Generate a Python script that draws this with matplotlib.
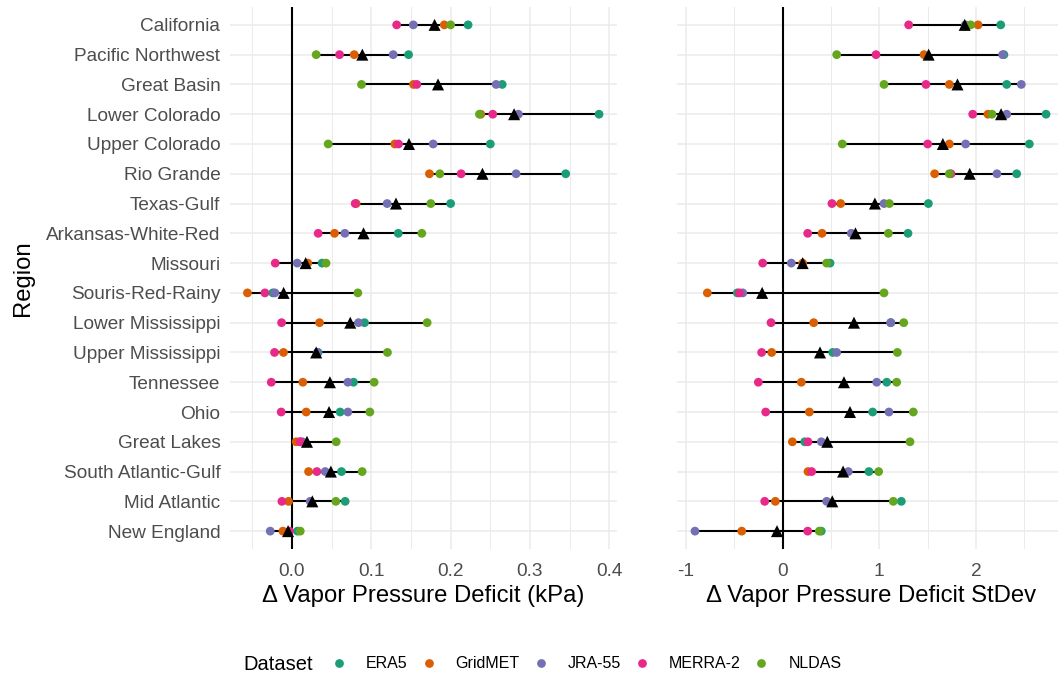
import numpy as np
import matplotlib
matplotlib.use("Agg")
import matplotlib.pyplot as plt
from matplotlib.lines import Line2D

plt.rcParams['font.family'] = ['Liberation Sans', 'DejaVu Sans']

regions = ["California", "Pacific Northwest", "Great Basin", "Lower Colorado",
           "Upper Colorado", "Rio Grande", "Texas-Gulf", "Arkansas-White-Red",
           "Missouri", "Souris-Red-Rainy", "Lower Mississippi", "Upper Mississippi",
           "Tennessee", "Ohio", "Great Lakes", "South Atlantic-Gulf",
           "Mid Atlantic", "New England"]
datasets = ["ERA5", "GridMET", "JRA-55", "MERRA-2", "NLDAS"]
colors = ["#1B9E77", "#D95F02", "#7570B3", "#E7298A", "#66A61E"]

# delta VPD (kPa), one list per dataset, regions in order above
era5_kpa = [0.222, 0.147, 0.265, 0.387, 0.250, 0.345, 0.200, 0.134, 0.038,
            -0.024, 0.0915, 0.033, 0.0776, 0.0608, 0.010, 0.0625, 0.0671, 0.007]
gridmet_kpa = [0.192, 0.0785, 0.1532, 0.238, 0.1297, 0.1733, 0.081, 0.0537, 0.020,
               -0.056, 0.0348, -0.0106, 0.0138, 0.018, 0.0054, 0.021, -0.0042, -0.0113]
jra55_kpa = [0.153, 0.1276, 0.2573, 0.2854, 0.178, 0.2825, 0.120, 0.0667, 0.0067,
             -0.0214, 0.0839, 0.032, 0.0705, 0.0705, 0.0133, 0.042, 0.023, -0.0273]
merra2_kpa = [0.132, 0.060, 0.1574, 0.2531, 0.1343, 0.2132, 0.0797, 0.0331, -0.021,
              -0.034, -0.013, -0.0219, -0.026, -0.0135, 0.0105, 0.0315, -0.0126, -0.003]
nldas_kpa = [0.200, 0.0306, 0.0877, 0.2363, 0.0457, 0.1864, 0.175, 0.1637, 0.043,
             0.0831, 0.1704, 0.1204, 0.1036, 0.0982, 0.0558, 0.0885, 0.0554, 0.0105]

# delta VPD in standard deviations
era5_sd = [2.257, 2.29, 2.319, 2.726, 2.553, 2.422, 1.508, 1.297, 0.490,
           -0.47, 1.119, 0.518, 1.077, 0.931, 0.228, 0.893, 1.228, 0.399]
gridmet_sd = [2.022, 1.463, 1.725, 2.125, 1.725, 1.573, 0.600, 0.407, 0.207,
              -0.780, 0.321, -0.114, 0.193, 0.276, 0.100, 0.262, -0.076, -0.424]
jra55_sd = [1.891, 2.277, 2.47, 2.319, 1.894, 2.218, 1.049, 0.710, 0.089,
            -0.414, 1.118, 0.559, 0.973, 1.100, 0.400, 0.679, 0.455, -0.908]
merra2_sd = [1.304, 0.966, 1.483, 1.967, 1.501, 1.742, 0.510, 0.259, -0.207,
             -0.449, -0.121, -0.218, -0.252, -0.176, 0.262, 0.300, -0.186, 0.259]
nldas_sd = [1.946, 0.559, 1.049, 2.167, 0.617, 1.725, 1.104, 1.094, 0.455,
            1.049, 1.253, 1.187, 1.180, 1.352, 1.318, 0.993, 1.145, 0.379]

kpa = np.array([era5_kpa, gridmet_kpa, jra55_kpa, merra2_kpa, nldas_kpa])
sd = np.array([era5_sd, gridmet_sd, jra55_sd, merra2_sd, nldas_sd])

W, H = 1058, 687
fig = plt.figure(figsize=(W / 100, H / 100), dpi=100)
ax1 = fig.add_axes([230 / W, 1 - 549 / H, 386.5 / W, 542 / H])
ax2 = fig.add_axes([677.4 / W, 1 - 549 / H, 386.4 / W, 542 / H])

y = np.arange(len(regions))[::-1]
grid_col = "#EBEBEB"
tick_col = "#4D4D4D"
tick_fs = 13.7
title_fs = 17.2


def draw(ax, vals, xlim, major, minor, labels, xlabel):
    for xv in minor:
        ax.axvline(xv, color=grid_col, lw=0.7, zorder=0)
    for xv in major:
        ax.axvline(xv, color=grid_col, lw=1.1, zorder=0)
    for yv in y:
        ax.axhline(yv, color=grid_col, lw=1.1, zorder=0)
    ax.axvline(0, color="black", lw=1.5, zorder=1)
    ax.hlines(y, vals.min(axis=0), vals.max(axis=0), color="black", lw=1.5, zorder=2)
    for i, c in enumerate(colors):
        ax.scatter(vals[i], y, s=40, color=c, edgecolors="none", zorder=3)
    ax.scatter(vals.mean(axis=0), y, s=75, marker="^", color="black",
               edgecolors="none", zorder=4)
    ax.set_xlim(*xlim)
    ax.set_ylim(-0.6, len(regions) - 0.4)
    ax.set_xticks(major)
    ax.set_xticklabels(labels, color=tick_col, fontsize=tick_fs)
    ax.tick_params(axis="x", length=0, pad=10)
    ax.tick_params(axis="y", length=0, pad=7)
    ax.set_xlabel(xlabel, fontsize=title_fs, labelpad=4)
    for s in ax.spines.values():
        s.set_visible(False)


draw(ax1, kpa, (-0.078, 0.409), [0.0, 0.1, 0.2, 0.3, 0.4],
     [-0.05, 0.05, 0.15, 0.25, 0.35], ["0.0", "0.1", "0.2", "0.3", "0.4"],
     "Δ Vapor Pressure Deficit (kPa)")
draw(ax2, sd, (-1.09, 2.91), [-1, 0, 1, 2], [-0.5, 0.5, 1.5, 2.5],
     ["-1", "0", "1", "2"], "Δ Vapor Pressure Deficit StDev")

ax1.set_yticks(y)
ax1.set_yticklabels(regions, color=tick_col, fontsize=tick_fs)
ax1.set_ylabel("Region", fontsize=title_fs)
ax1.yaxis.set_label_coords((34 - 230) / 386.5, 0.5)
ax2.set_yticks(y)
ax2.set_yticklabels([])

# legend along the bottom
leg_y = 1 - 664 / H
fig.text(243 / W, leg_y, "Dataset", fontsize=14.5, va="center", ha="left")
handles = [Line2D([], [], marker="o", ls="none", color=c, markersize=6.3,
                  markeredgewidth=0) for c in colors]
fig.legend(handles, datasets, loc="center left", ncol=5,
           bbox_to_anchor=(331 / W, leg_y), frameon=False,
           fontsize=11.5, handlelength=1.0, handletextpad=1.2,
           columnspacing=0.8, borderpad=0, borderaxespad=0)

fig.savefig("out.png", dpi=100)
